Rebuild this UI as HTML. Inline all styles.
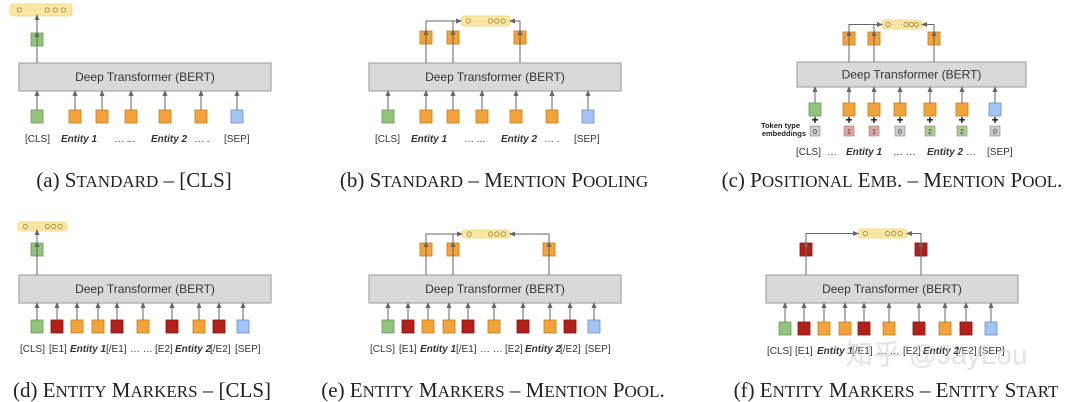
<!DOCTYPE html>
<html><head><meta charset="utf-8"><style>
html,body{margin:0;padding:0;background:#fff;width:1080px;height:402px;overflow:hidden}
svg{display:block}
.cap{font-family:"Liberation Serif",serif;font-size:21px;fill:#222}
.lb{font-family:"Liberation Sans",sans-serif;font-size:10px;fill:#333}
.bt{font-family:"Liberation Sans",sans-serif;font-size:12px;fill:#333}
</style></head><body>
<svg id="s" width="1080" height="402" viewBox="0 0 1080 402" xmlns="http://www.w3.org/2000/svg">
<defs><marker id="a" markerWidth="6" markerHeight="6" refX="3" refY="3" orient="auto" markerUnits="userSpaceOnUse"><path d="M0,0.5 L6,3 L0,5.5z" fill="#666"/></marker></defs>
</svg>
<script>
var s=document.getElementById('s'),h='';
var C={g:['#93c47d','#6a9a55'],o:['#f3a33a','#c27c1c'],b:['#a4c2f4','#6d8fc9'],r:['#b3201a','#7e1511']};
function tok(x,y,c){h+='<rect x="'+(x-6)+'" y="'+y+'" width="12" height="13" fill="'+C[c][0]+'" stroke="'+C[c][1]+'" stroke-width="0.8"/>';}
function ln(x1,y1,x2,y2){h+='<line x1="'+x1+'" y1="'+y1+'" x2="'+x2+'" y2="'+y2+'" stroke="#666" stroke-width="1" marker-end="url(#a)"/>';}
function box(x1,x2,y1,y2){h+='<rect x="'+x1+'" y="'+y1+'" width="'+(x2-x1)+'" height="'+(y2-y1)+'" fill="#d9d9d9" stroke="#999"/>';h+='<text class="bt" x="'+((x1+x2)/2)+'" y="'+((y1+y2)/2+4)+'" text-anchor="middle">Deep Transformer (BERT)</text>';}
function bar(x1,x2,y1,y2){h+='<rect x="'+x1+'" y="'+y1+'" width="'+(x2-x1)+'" height="'+(y2-y1)+'" rx="3" fill="#fbe7a6" stroke="#f0d27a" stroke-width="0.8"/>';var cy=(y1+y2)/2,w=x2-x1;[0.15,0.6,0.73,0.86].forEach(function(f){h+='<circle cx="'+(x1+w*f)+'" cy="'+cy+'" r="2.2" fill="none" stroke="#a08a3a" stroke-width="0.8"/>';});h+='<line x1="'+(x1+w*0.25)+'" y1="'+cy+'" x2="'+(x1+w*0.5)+'" y2="'+cy+'" stroke="#d6c48a" stroke-dasharray="1,2"/>';}
function panel(o){
 box(o.bx1,o.bx2,o.by1,o.by2);
 o.t.forEach(function(t){tok(t[0],o.ty,t[1]);ln(t[0],o.ty,t[0],o.by2+2);});
 bar(o.b[0],o.b[1],o.b[2],o.b[3]);
 if(o.cls){tok(o.cls,o.oy,'g');ln(o.cls,o.by1,o.cls,o.oy+1);ln(o.cls,o.oy,o.cls,o.b[3]+1);}
 else{var my=(o.b[2]+o.b[3])/2;o.outs.forEach(function(x){tok(x,o.oy,o.oc);ln(x,o.by1,x,o.oy+1);});
  var xs=o.outs,l=xs[0],r=xs[xs.length-1];
  h+='<polyline points="'+l+','+o.oy+' '+l+','+my+' '+(o.b[0]-2)+','+my+'" fill="none" stroke="#666" marker-end="url(#a)"/>';
  if(xs.length>2)h+='<line x1="'+xs[1]+'" y1="'+o.oy+'" x2="'+xs[1]+'" y2="'+my+'" stroke="#666"/>';
  h+='<polyline points="'+r+','+o.oy+' '+r+','+my+' '+(o.b[1]+2)+','+my+'" fill="none" stroke="#666" marker-end="url(#a)"/>';}
}
panel({bx1:19,bx2:271,by1:63,by2:91,ty:110,oy:33,cls:37,b:[10,72,4,16],t:[[37,'g'],[75,'o'],[102,'o'],[131,'o'],[165,'o'],[201,'o'],[237,'b']]});
h+='<text class="lb" y="142" font-size="11"><tspan x="25">[CLS]</tspan><tspan x="61" font-weight="bold" font-style="italic">Entity 1</tspan><tspan x="114">…  ...</tspan><tspan x="151" font-weight="bold" font-style="italic">Entity 2</tspan><tspan x="194">… .</tspan><tspan x="224">[SEP]</tspan></text>';
panel({bx1:369,bx2:621,by1:63,by2:91,ty:110,oy:31,oc:'o',outs:[426,453,520],b:[461,510,16,26],t:[[388,'g'],[426,'o'],[453,'o'],[482,'o'],[516,'o'],[552,'o'],[588,'b']]});
h+='<text class="lb" y="142" font-size="11"><tspan x="375">[CLS]</tspan><tspan x="411" font-weight="bold" font-style="italic">Entity 1</tspan><tspan x="464">…  ...</tspan><tspan x="501" font-weight="bold" font-style="italic">Entity 2</tspan><tspan x="544">… .</tspan><tspan x="574">[SEP]</tspan></text>';
panel({bx1:797,bx2:1026,by1:62,by2:87,ty:103,oy:32,oc:'o',outs:[849,874,934],b:[882,922,20,29],t:[[815,'g'],[849,'o'],[874,'o'],[900,'o'],[930,'o'],[962,'o'],[995,'b']]});
[[815,'0','#ccc'],[849,'1','#e6a1a1'],[874,'1','#e6a1a1'],[900,'0','#ccc'],[930,'2','#a9d08e'],[962,'2','#a9d08e'],[995,'0','#ccc']].forEach(function(t){
 h+='<text x="'+t[0]+'" y="124" text-anchor="middle" font-family="Liberation Sans" font-weight="bold" font-size="12" fill="#111">+</text>';
 h+='<rect x="'+(t[0]-5)+'" y="126" width="10" height="10" fill="'+t[2]+'" stroke="#888" stroke-width="0.6"/>';
 h+='<text x="'+t[0]+'" y="134" text-anchor="middle" font-family="Liberation Sans" font-size="7" fill="#333">'+t[1]+'</text>';});
h+='<text font-family="Liberation Sans" font-weight="bold" font-size="7.5" fill="#222" text-anchor="end"><tspan x="800" y="128">Token type</tspan><tspan x="806" y="136">embeddings</tspan></text>';
h+='<text class="lb" y="155"><tspan x="796">[CLS]</tspan><tspan x="827">…</tspan><tspan x="846" font-weight="bold" font-style="italic">Entity 1</tspan><tspan x="893">…  …</tspan><tspan x="927" font-weight="bold" font-style="italic">Entity 2</tspan><tspan x="966">…</tspan><tspan x="987">[SEP]</tspan></text>';
var dt=[[37,'g'],[57,'r'],[77,'o'],[98,'o'],[117,'r'],[143,'o'],[172,'r'],[199,'o'],[219,'r'],[243,'b']];
panel({bx1:19,bx2:271,by1:275,by2:303,ty:320,oy:243,cls:37,b:[18,67,222,231],t:dt});
function ml(dx){h+='<text class="lb" y="352" font-size="9"><tspan x="'+(20+dx)+'">[CLS]</tspan><tspan x="'+(49+dx)+'">[E1]</tspan><tspan x="'+(70+dx)+'" font-weight="bold" font-style="italic">Entity 1</tspan><tspan x="'+(106+dx)+'">[/E1]</tspan><tspan x="'+(130+dx)+'">…  …</tspan><tspan x="'+(155+dx)+'">[E2]</tspan><tspan x="'+(175+dx)+'" font-weight="bold" font-style="italic">Entity 2</tspan><tspan x="'+(210+dx)+'">[/E2]</tspan><tspan x="'+(235+dx)+'">[SEP]</tspan></text>';}
ml(0);
var et=dt.map(function(t){return [t[0]+351,t[1]];});
panel({bx1:369,bx2:621,by1:275,by2:303,ty:320,oy:243,oc:'o',outs:[426,453,549],b:[462,510,230,238],t:et});
ml(350);
panel({bx1:766,bx2:1018,by1:275,by2:303,ty:322,oy:243,oc:'r',outs:[806,921],b:[858,907,229,238],t:[[785,'g'],[804,'r'],[824,'o'],[845,'o'],[864,'r'],[889,'o'],[919,'r'],[945,'o'],[966,'r'],[991,'b']]});
h+='<text class="lb" y="354" font-size="9"><tspan x="767">[CLS]</tspan><tspan x="795">[E1]</tspan><tspan x="817" font-weight="bold" font-style="italic">Entity 1</tspan><tspan x="852">[/E1]</tspan><tspan x="877">…  …</tspan><tspan x="903">[E2]</tspan><tspan x="923" font-weight="bold" font-style="italic">Entity 2</tspan><tspan x="956">[/E2]</tspan><tspan x="979">[SEP]</tspan></text>';
h+='<text x="845" y="364" font-family="Liberation Sans, Noto Sans CJK SC, sans-serif" font-size="28" fill="#ccc" fill-opacity="0.55">知乎 @JayLou</text>';
function cap(x,y,t){h+='<text class="cap" x="'+x+'" y="'+y+'" text-anchor="middle">'+t+'</text>';}
var k='font-size="17"';
cap(134,187,'(a) S<tspan '+k+'>TANDARD</tspan> – [CLS]');
cap(494,187,'(b) S<tspan '+k+'>TANDARD</tspan> – M<tspan '+k+'>ENTION</tspan> P<tspan '+k+'>OOLING</tspan>');
cap(892,187,'(c) P<tspan '+k+'>OSITIONAL</tspan> E<tspan '+k+'>MB</tspan>. – M<tspan '+k+'>ENTION</tspan> P<tspan '+k+'>OOL</tspan>.');
cap(142,397,'(d) E<tspan '+k+'>NTITY</tspan> M<tspan '+k+'>ARKERS</tspan> – [CLS]');
cap(493,397,'(e) E<tspan '+k+'>NTITY</tspan> M<tspan '+k+'>ARKERS</tspan> – M<tspan '+k+'>ENTION</tspan> P<tspan '+k+'>OOL</tspan>.');
cap(896,397,'(f) E<tspan '+k+'>NTITY</tspan> M<tspan '+k+'>ARKERS</tspan> – E<tspan '+k+'>NTITY</tspan> S<tspan '+k+'>TART</tspan>');
s.insertAdjacentHTML('beforeend',h);
</script>
</body></html>
